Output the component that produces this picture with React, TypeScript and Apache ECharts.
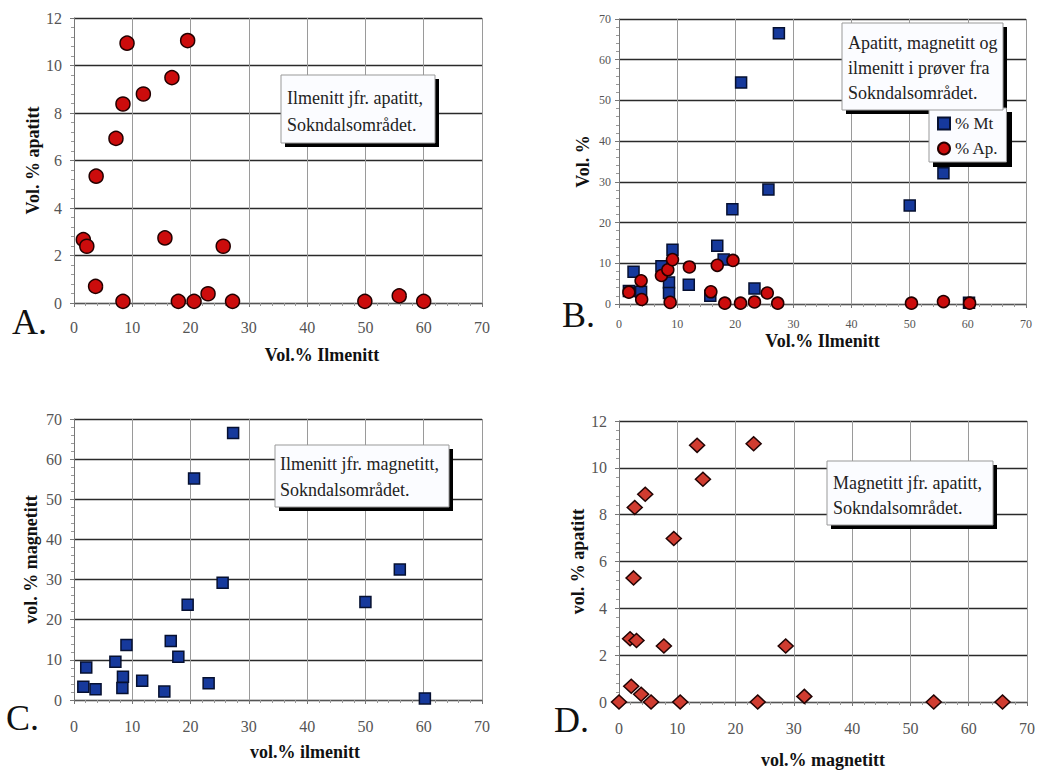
import React, { useEffect, useRef } from "react";
import * as echarts from "echarts";

// Panel A: ilmenite vs apatite
const ilmA = [1.6, 2.2, 3.7, 3.8, 7.2, 8.4, 8.4, 9.1, 11.9, 15.6, 16.8, 17.9, 19.5, 20.6, 23.0, 25.6, 27.2, 49.9, 55.8, 60.0];
const apA = [2.67, 2.39, 0.7, 5.34, 6.93, 8.38, 0.07, 10.94, 8.8, 2.74, 9.49, 0.07, 11.05, 0.07, 0.39, 2.39, 0.07, 0.07, 0.3, 0.07];

// Panel B: ilmenite vs magnetite (% Mt) and apatite (% Ap.)
const ilmBMt = [1.7, 2.5, 3.8, 7.3, 8.6, 8.6, 9.2, 12.0, 15.7, 16.9, 18.0, 19.5, 21.0, 23.3, 25.7, 27.5, 50.0, 55.8, 60.2];
const mtB = [3.2, 7.9, 3.0, 9.3, 5.3, 2.7, 13.3, 4.7, 2.0, 14.3, 10.9, 23.3, 54.4, 3.8, 28.1, 66.5, 24.2, 32.1, 0.3];
const ilmBAp = [1.7, 3.8, 3.9, 7.3, 8.4, 8.8, 9.2, 12.1, 15.8, 16.9, 18.2, 19.6, 20.9, 23.3, 25.5, 27.3, 50.3, 55.8, 60.3];
const apB = [2.9, 5.7, 1.1, 7.0, 8.4, 0.4, 10.9, 9.1, 3.0, 9.5, 0.2, 10.7, 0.2, 0.5, 2.7, 0.2, 0.2, 0.6, 0.2];

// Panel C: ilmenite vs magnetite
const ilmC = [1.6, 2.1, 3.7, 7.1, 8.3, 8.4, 9.0, 11.7, 15.5, 16.6, 17.9, 19.5, 20.6, 23.1, 25.5, 27.3, 50.0, 55.9, 60.2];
const mtC = [3.3, 8.1, 2.7, 9.5, 3.0, 5.8, 13.7, 4.8, 2.1, 14.7, 10.8, 23.7, 55.2, 4.2, 29.2, 66.5, 24.4, 32.5, 0.4];

// Panel D: magnetite vs apatite
const mtD = [0, 1.9, 3.0, 2.1, 2.5, 2.7, 3.8, 4.5, 5.5, 7.7, 9.4, 10.5, 13.4, 14.4, 23.1, 23.8, 28.6, 31.8, 54.0, 65.8];
const apD = [0, 2.7, 2.63, 0.67, 5.3, 8.31, 0.33, 8.87, 0, 2.39, 6.98, 0, 10.96, 9.51, 11.03, 0, 2.39, 0.24, 0, 0];

const xTicks = { min: 0, max: 70, interval: 10 };
const apTicks = { min: 0, max: 12, interval: 2 };
const pctTicks = { min: 0, max: 70, interval: 10 };

const serif = "Liberation Serif";

const zip = (xs: number[], ys: number[]) => xs.map((x, i) => [x, ys[i]]);

function xAxis(gridIndex: number, fontSize: number, margin: number, name: string, nameGap: number, padLeft: number) {
  return {
    type: "value",
    gridIndex,
    ...xTicks,
    axisLine: { show: true, onZero: false, lineStyle: { color: "#555", width: 1 } },
    axisTick: { show: true, length: 4, lineStyle: { color: "#777" } },
    minorTick: { show: true, splitNumber: 5, length: 3, lineStyle: { color: "#999" } },
    splitLine: { show: true, showMinLine: true, showMaxLine: true, lineStyle: { color: "#9a9a9a", width: 1 } },
    axisLabel: { fontFamily: serif, fontSize, color: "#555", margin },
    name,
    nameLocation: "middle",
    nameGap,
    nameTextStyle: { fontFamily: serif, fontWeight: "bold", fontSize: 18, color: "#111", padding: [0, 0, 0, padLeft] },
  };
}

function yAxis(gridIndex: number, ticks: any, fontSize: number, margin: number, name: string, nameGap: number) {
  return {
    type: "value",
    gridIndex,
    ...ticks,
    axisLine: { show: true, onZero: false, lineStyle: { color: "#777", width: 1 } },
    axisTick: { show: true, length: 4, lineStyle: { color: "#777" } },
    minorTick: { show: true, splitNumber: 5, length: 3, lineStyle: { color: "#999" } },
    splitLine: { show: true, showMinLine: true, showMaxLine: true, lineStyle: { color: "#2a2a2a", width: 1.3 } },
    axisLabel: { fontFamily: serif, fontSize, color: "#555", margin },
    name,
    nameLocation: "middle",
    nameGap,
    nameRotate: 90,
    nameTextStyle: { fontFamily: serif, fontWeight: "bold", fontSize: 18, color: "#111" },
  };
}

function textBox(x: number, y: number, w: number, h: number, text: string, tx: number, ty: number, lh: number) {
  return [
    { type: "rect", z: 9, shape: { x: x + 4, y: y + 4, width: w, height: h }, style: { fill: "#000" } },
    { type: "rect", z: 10, shape: { x, y, width: w, height: h }, style: { fill: "#fbfcff", stroke: "#999", lineWidth: 1 } },
    {
      type: "text",
      z: 11,
      x: tx,
      y: ty,
      style: { text, fontFamily: serif, fontSize: 18, lineHeight: lh, fill: "#222", verticalAlign: "top" },
    },
  ];
}

function letter(x: number, y: number, t: string) {
  return {
    type: "text",
    z: 11,
    x,
    y,
    style: { text: t, fontFamily: serif, fontSize: 36, fill: "#111", verticalAlign: "middle" },
  };
}

const red = { color: "#cc0c0c", borderColor: "#220000", borderWidth: 1.5, opacity: 1 };
const blue = { color: "#16399c", borderColor: "#061030", borderWidth: 1.5, opacity: 1 };
const diamondRed = { color: "#d03c30", borderColor: "#220404", borderWidth: 1.5, opacity: 1 };

export default function App() {
  const ref = useRef<HTMLDivElement>(null);
  useEffect(() => {
    if (!ref.current) return;
    const chart = echarts.init(ref.current, null, { renderer: "svg" });
    chart.setOption({
      animation: false,
      backgroundColor: "#fff",
      textStyle: { fontFamily: serif },
      grid: [
        { left: 74, top: 18, width: 408, height: 285 },
        { left: 619, top: 19, width: 407, height: 285 },
        { left: 74, top: 419, width: 408, height: 281 },
        { left: 619, top: 421, width: 408, height: 281 },
      ],
      xAxis: [
        xAxis(0, 16, 16, "Vol.% Ilmenitt", 43, 88),
        xAxis(1, 12, 14, "Vol.% Ilmenitt", 28, 0),
        xAxis(2, 16, 18, "vol.% ilmenitt", 43, 54),
        xAxis(3, 16, 18, "vol.% magnetitt", 49, 0),
      ],
      yAxis: [
        yAxis(0, apTicks, 16, 12, "Vol. % apatitt", 32),
        yAxis(1, pctTicks, 12, 8, "Vol. %", 27),
        yAxis(2, pctTicks, 16, 12, "vol. % magnetitt", 34),
        yAxis(3, apTicks, 16, 12, "vol. % apatitt", 32),
      ],
      legend: {
        show: true,
        data: ["% Mt", "% Ap."],
        orient: "vertical",
        left: 929,
        top: 108,
        z: 10,
        itemWidth: 12,
        itemHeight: 12,
        itemGap: 8,
        padding: [7, 8, 5, 8],
        backgroundColor: "#fbfcff",
        borderColor: "#999",
        borderWidth: 1,
        borderRadius: 0,
        textStyle: { fontFamily: serif, fontSize: 17, color: "#222" },
      },
      series: [
        {
          type: "scatter",
          xAxisIndex: 0,
          yAxisIndex: 0,
          symbol: "circle",
          symbolSize: 14,
          itemStyle: red,
          data: zip(ilmA, apA),
        },
        {
          name: "% Mt",
          type: "scatter",
          xAxisIndex: 1,
          yAxisIndex: 1,
          symbol: "rect",
          symbolSize: 11,
          itemStyle: blue,
          data: zip(ilmBMt, mtB),
        },
        {
          name: "% Ap.",
          type: "scatter",
          xAxisIndex: 1,
          yAxisIndex: 1,
          symbol: "circle",
          symbolSize: 12,
          itemStyle: red,
          data: zip(ilmBAp, apB),
        },
        {
          type: "scatter",
          xAxisIndex: 2,
          yAxisIndex: 2,
          symbol: "rect",
          symbolSize: 11,
          itemStyle: blue,
          data: zip(ilmC, mtC),
        },
        {
          type: "scatter",
          xAxisIndex: 3,
          yAxisIndex: 3,
          symbol: "diamond",
          symbolSize: [15, 14],
          itemStyle: diamondRed,
          data: zip(mtD, apD),
        },
      ],
      graphic: [
        ...textBox(281, 75, 154, 68, "Ilmenitt jfr. apatitt,\nSokndalsområdet.", 287, 84, 27),
        ...textBox(842, 23, 161, 87, "Apatitt, magnetitt og\nilmenitt i prøver fra\nSokndalsområdet.", 848, 30, 25),
        ...textBox(275, 445, 174, 62, "Ilmenitt jfr. magnetitt,\nSokndalsområdet.", 280, 451, 26),
        ...textBox(827, 461, 166, 64, "Magnetitt jfr. apatitt,\nSokndalsområdet.", 833, 470, 25),
        { type: "rect", z: 9, shape: { x: 933, y: 112, width: 79, height: 55 }, style: { fill: "#000" } },
        letter(12, 322, "A."),
        letter(562, 315, "B."),
        letter(6, 718, "C."),
        letter(554, 720, "D."),
      ],
    });
    return () => chart.dispose();
  }, []);
  return <div ref={ref} style={{ position: "fixed", left: 0, top: 0, width: 1039, height: 770 }} />;
}
